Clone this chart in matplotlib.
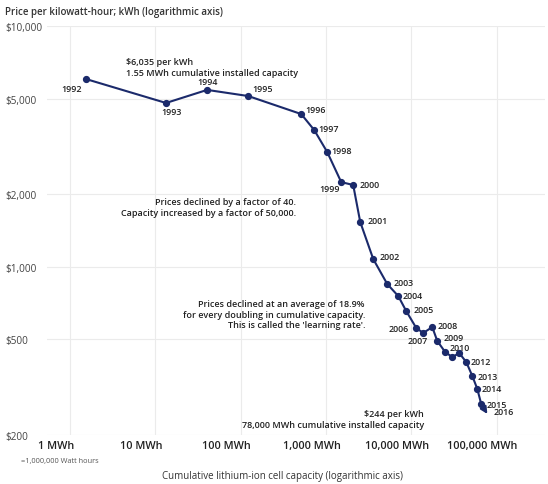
import matplotlib.pyplot as plt
import matplotlib.transforms as mtransforms
from matplotlib.ticker import NullLocator

plt.rcParams['font.family'] = ['Open Sans', 'DejaVu Sans']

# Cumulative installed capacity (MWh) and cell price ($ per kWh), one point per year
capacity_mwh = [1.55, 13.4, 40.6, 123, 514, 730, 1037, 1513, 2090, 2527,
                3590, 5240, 7050, 8740, 11460, 13840, 17650, 20200, 25060,
                30300, 36600, 44200, 52000, 59500, 66200, 78000]
price_usd = [6035, 4800, 5440, 5130, 4317, 3704, 3000, 2249, 2188, 1535,
             1076, 847, 755, 654, 556, 530, 561, 491, 441,
             421, 437, 401, 351, 310, 268, 244]
year_labels = ['1992', '1993', '1994', '1995', '1996', '1997', '1998', '1999',
               '2000', '2001', '2002', '2003', '2004', '2005', '2006', '2007',
               '2008', '2009', '2010', '', '', '2012', '2013', '2014', '2015',
               '2016']
# label offsets in pixels (dx, dy) and horizontal alignment
label_pos = [(-15, -9, 'center'), (5, -9, 'center'), (0, 8, 'center'),
             (14, 8, 'center'), (4, 5, 'left'), (4, 2, 'left'), (4, 2, 'left'),
             (-1, -6, 'right'), (6, 0, 'left'), (7, 1, 'left'), (6, 3, 'left'),
             (6, 2, 'left'), (4, 1, 'left'), (7, 2, 'left'), (-8, -1, 'right'),
             (-6, -8, 'center'), (5, 2, 'left'), (6, 3, 'left'), (4, 5, 'left'),
             (0, 0, 'left'), (0, 0, 'left'), (4, 1, 'left'), (5, 0, 'left'),
             (4, 0, 'left'), (5, 0, 'left'), (6, 2, 'left')]

x_ticks = [1, 10, 100, 1000, 10000, 100000]
x_ticklabels = ['1 MWh', '10 MWh', '100 MWh', '1,000 MWh', '10,000 MWh', '100,000 MWh']
y_ticks = [200, 500, 1000, 2000, 5000, 10000]
y_ticklabels = ['$200', '$500', '$1,000', '$2,000', '$5,000', '$10,000']

NAVY = '#1b2a6b'
TXT = '#222222'

fig = plt.figure(figsize=(5.48, 4.85), dpi=100)
ax = fig.add_axes([0.0858, 0.1016, 0.9088, 0.842])
ax.set_xscale('log')
ax.set_yscale('log')
ax.set_xlim(0.54, 370000)
ax.set_ylim(200, 10000)

for s in ax.spines.values():
    s.set_visible(False)
ax.grid(True, which='major', color='#ebebeb', lw=0.8)
ax.set_axisbelow(True)
ax.xaxis.set_minor_locator(NullLocator())
ax.yaxis.set_minor_locator(NullLocator())

ax.set_xticks(x_ticks, x_ticklabels)
ax.set_yticks(y_ticks, y_ticklabels)
ax.tick_params(axis='both', length=0)
ax.tick_params(axis='y', pad=30.2, labelsize=7.2, labelcolor='#444444')
ax.tick_params(axis='x', pad=4, labelsize=7.8, labelcolor='#222222')
for lab in ax.get_yticklabels():
    lab.set_horizontalalignment('left')
shift = mtransforms.ScaledTranslation(-14 / 100, 0, fig.dpi_scale_trans)
for lab in ax.get_xticklabels():
    lab.set_fontweight('semibold')
    lab.set_transform(lab.get_transform() + shift)

# price curve, last step drawn as an arrow
ax.plot(capacity_mwh[:-1], price_usd[:-1], color=NAVY, lw=1.5, marker='o',
        markersize=4.2, zorder=3)
ax.annotate('', xy=(capacity_mwh[-1], price_usd[-1]),
            xytext=(capacity_mwh[-2], price_usd[-2]),
            arrowprops=dict(arrowstyle='-|>', color=NAVY, lw=1.5,
                            mutation_scale=10, shrinkA=0, shrinkB=0), zorder=3)

for x, y, lab, (dx, dy, ha) in zip(capacity_mwh, price_usd, year_labels, label_pos):
    if lab:
        ax.annotate(lab, (x, y), xytext=(dx, dy), textcoords='offset pixels',
                    ha=ha, va='center', fontsize=6.4, color=TXT, fontweight='semibold')

# notes
note = dict(fontsize=6.5, color='#222222', fontweight='semibold', linespacing=1.25)
fig.text(126 / 548, 1 - 68 / 485, '$6,035 per kWh\n1.55 MWh cumulative installed capacity',
         ha='left', va='center', **note)
fig.text(296 / 548, 1 - 208 / 485,
         'Prices declined by a factor of 40.\nCapacity increased by a factor of 50,000.',
         ha='right', va='center', multialignment='right', **note)
fig.text(365 / 548, 1 - 315 / 485,
         "Prices declined at an average of 18.9%\nfor every doubling in cumulative capacity.\n"
         "This is called the 'learning rate'.",
         ha='right', va='center', multialignment='right', **note)
fig.text(424 / 548, 1 - 420 / 485, '$244 per kWh\n78,000 MWh cumulative installed capacity',
         ha='right', va='center', multialignment='right', **note)

fig.text(5 / 548, 1 - 13 / 485, 'Price per kilowatt-hour; kWh (logarithmic axis)',
         ha='left', va='center', fontsize=7, color='#333333', fontweight='semibold')
fig.text(60 / 548, 1 - 462 / 485, '=1,000,000 Watt hours',
         ha='center', va='center', fontsize=5.3, color='#555555')
fig.text(283 / 548, 1 - 477 / 485, 'Cumulative lithium-ion cell capacity (logarithmic axis)',
         ha='center', va='center', fontsize=7, color='#333333')

fig.savefig('out.png', dpi=100)
